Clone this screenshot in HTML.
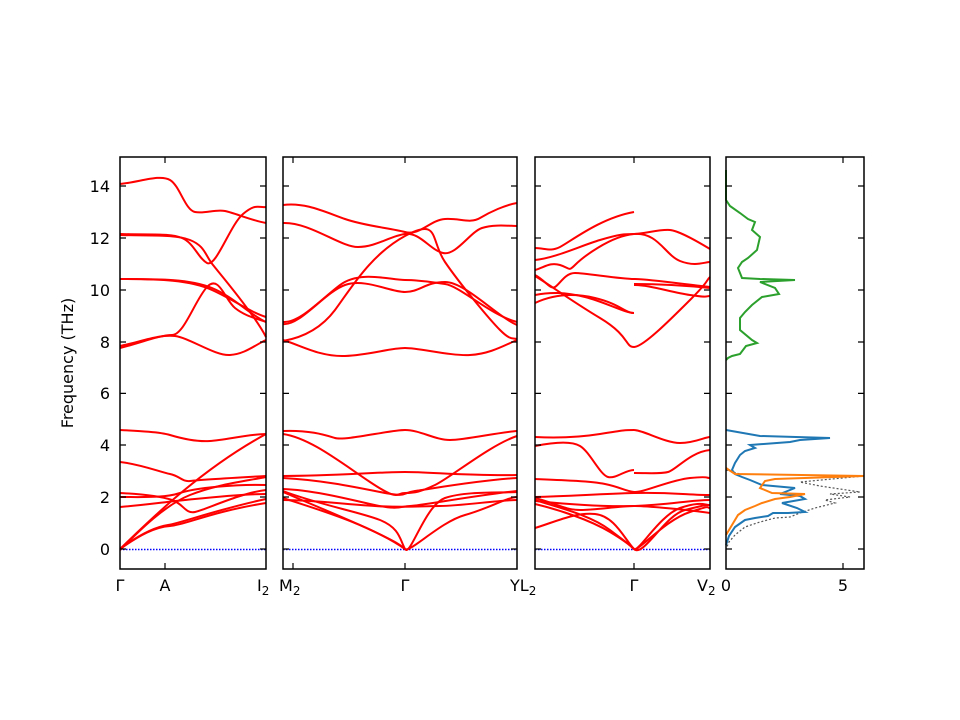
<!DOCTYPE html>
<html><head><meta charset="utf-8"><style>
body{margin:0;background:#fff}
svg{display:block}
text{font-family:"DejaVu Sans","Liberation Sans",sans-serif;font-size:16px;fill:#000}
.b{fill:none;stroke:#f00;stroke-width:2}
</style></head><body>
<svg width="960" height="720" xmlns="http://www.w3.org/2000/svg">
<rect width="960" height="720" fill="#fff"/>
<!-- zero lines -->
<g stroke="#0000ff" stroke-width="1.4" stroke-dasharray="1.5,1.5">
<line x1="120" y1="549.5" x2="266" y2="549.5"/>
<line x1="283" y1="549.5" x2="517" y2="549.5"/>
<line x1="535" y1="549.5" x2="710" y2="549.5"/>
</g>
<!-- Panel 1 bands -->
<g class="b">
<path d="M120,184 C140,182 160,174 170,180 S185,210 195,212 S215,209 225,211 S250,220 266,223"/>
<path d="M120,234 C150,235 170,233 182,238 S198,258 207,263 S230,225 243,214 S258,208 266,207"/>
<path d="M120,235 C150,236 175,234 190,240 S205,255 213,265 S255,315 266,337"/>
<path d="M120,279 C160,279 190,279 212,288 S250,315 266,322"/>
<path d="M120,279 C160,279 190,280 212,290 S250,312 266,317"/>
<path d="M120,348 C140,343 160,335 172,335 S195,300 207,287 S225,300 235,308 S255,318 266,322"/>
<path d="M120,346 C140,342 160,334 175,336 S215,356 230,355 S255,345 266,340"/>
<path d="M120,430 C140,431 160,432 170,435 S195,442 210,441 S250,434 266,434"/>
<path d="M120,462 C140,464 160,472 170,474 S182,482 190,481 S230,478 266,476"/>
<path d="M120,549 C150,520 200,470 266,434"/>
<path d="M120,549 C140,535 155,527 170,526 S210,512 266,503"/>
<path d="M120,549 C140,534 155,527 168,525 S215,510 266,499"/>
<path d="M120,493 C140,494 160,496 172,500 S185,514 195,512 S240,493 266,490"/>
<path d="M120,507 C145,505 165,502 185,500 S240,494 266,494"/>
<path d="M120,550 C140,530 165,505 190,495 S240,482 266,477"/>
<path d="M120,497 C145,497 165,498 180,493 S235,484 266,485"/>
</g>
<!-- Panel 2 bands -->
<g class="b">
<path d="M283,205 C305,202 325,212 345,219 S390,228 405,232 S430,220 445,219 S470,224 480,218 S505,205 517,203"/>
<path d="M283,223 C310,222 340,247 358,247 S390,236 405,234 S430,250 443,253 S470,232 482,228 S510,226 517,226"/>
<path d="M283,341 C300,338 320,330 335,310 S370,255 405,236 S430,240 445,262 S490,320 500,330 S512,338 517,339"/>
<path d="M283,322 C300,323 320,300 340,285 S390,280 405,280 S430,282 445,284 S490,315 517,322"/>
<path d="M283,324 C300,326 325,292 345,285 S390,292 405,292 S425,282 445,282 S495,315 517,325"/>
<path d="M283,340 C300,345 320,357 345,356 S390,348 405,348 S450,356 470,355 S505,345 517,340"/>
<path d="M283,431 C310,430 325,435 335,438 S390,430 405,430 S435,440 450,440 S500,432 517,431"/>
<path d="M283,434 C310,438 340,462 370,482 S395,493 405,493 S420,492 435,485 S490,445 517,436"/>
<path d="M283,476 C330,476 380,472 405,472 S470,476 517,475"/>
<path d="M283,478 C320,480 350,486 380,492 S400,493 415,491 S480,480 517,478"/>
<path d="M283,489 C310,490 340,497 370,504 S400,506 410,506 S470,496 517,491"/>
<path d="M283,491 C320,505 360,512 380,520 S400,540 405,549 S425,505 445,498 S500,493 517,492"/>
<path d="M283,492 C320,508 350,520 375,532 S400,545 405,549 S440,522 465,515 S505,498 517,497"/>
<path d="M283,500 C315,500 340,504 375,506 S420,506 440,506 S500,500 517,500"/>
<path d="M283,498 C320,510 370,525 405,549"/>
</g>
<!-- Panel 3 bands -->
<g class="b">
<path d="M535,248 C545,248 550,252 560,247 S600,218 634,212"/>
<path d="M535,260 C555,258 580,246 600,240 S625,234 634,234 S660,229 670,230 S700,243 710,249"/>
<path d="M535,270 C545,267 550,262 560,265 S568,272 575,265 S610,236 634,234 S665,255 680,261 S705,262 710,262"/>
<path d="M535,275 C545,280 550,290 555,287 S565,273 575,273 S620,279 634,279 S690,285 710,287"/>
<path d="M535,276 C550,285 570,300 600,318 S625,347 634,347 S670,320 690,300 S705,282 710,277"/>
<path d="M535,295 C550,292 565,292 585,297 S625,313 634,313"/>
<path d="M535,303 C550,296 570,292 595,298 S625,313 634,313"/>
<path d="M634,285 C650,285 670,292 690,295 S705,296 710,296"/>
<path d="M634,284 C660,284 690,286 710,288"/>
<path d="M535,437 C555,438 575,438 600,434 S625,430 634,430 S665,443 680,443 S705,437 710,437"/>
<path d="M535,446 C550,443 570,440 580,446 S600,475 608,477 S625,470 634,470"/>
<path d="M634,473 C650,473 660,474 668,472 S690,452 710,450"/>
<path d="M535,479 C560,480 590,481 605,484 S625,491 634,492 S670,480 690,478 S705,478 710,478"/>
<path d="M535,500 C560,508 590,515 610,530 S630,545 634,549 S660,515 680,508 S705,505 710,505"/>
<path d="M535,528 C555,522 575,512 595,514 S625,540 634,549 S665,515 685,510 S705,505 710,505"/>
<path d="M535,497 C570,496 600,494 634,493 S690,495 710,495"/>
<path d="M535,501 C565,504 600,507 634,506 S690,500 710,500"/>
<path d="M535,498 C555,503 565,510 580,510 S620,506 634,506 S690,510 710,513"/>
<path d="M535,504 C560,510 590,520 610,532 S630,546 634,549 S665,520 690,512 S705,508 710,508"/>
</g>
<!-- DOS -->
<polyline fill="none" stroke="#555" stroke-width="1.2" stroke-dasharray="2,2" points="726,470 740,474 864,476 800,482 820,486 860,492 830,494 850,497 825,500 835,503 815,508 800,513 790,517 775,518 760,522 745,527 735,535 729,542 726,549"/>
<polyline fill="none" stroke="#1f77b4" stroke-width="2" points="726,430 760,436 830,438 800,440 790,442 750,445 755,448 745,451 740,455 735,463 732,470 735,474 742,477 750,480 762,485 795,488 780,494 800,496 805,499 782,503 797,508 805,512 788,513 773,513 768,516 755,518 745,520 735,527 729,536 726,545"/>
<polyline fill="none" stroke="#ff7f0e" stroke-width="2" points="726,468 732,472 735,474 864,476 775,479 765,481 760,488 772,493 805,494 790,497 775,499 762,503 755,506 745,510 738,515 732,525 726,535"/>
<polyline fill="none" stroke="#2ca02c" stroke-width="2" points="726,170 726,200 730,206 740,213 748,219 755,222 752,230 760,237 757,250 748,258 742,262 738,268 742,278 760,279 795,280 760,282 775,288 779,294 762,297 752,305 745,312 740,318 740,330 752,340 757,343 746,346 740,354 732,356 728,358 726,360"/>
<!-- axes frames -->
<g fill="none" stroke="#000" stroke-width="1.5">
<rect x="120" y="157" width="146" height="412"/>
<rect x="283" y="157" width="234" height="412"/>
<rect x="535" y="157" width="175" height="412"/>
<rect x="726" y="157" width="138" height="412"/>
</g>
<!-- ticks -->
<g stroke="#000" stroke-width="1.2">
<path d="M120,549h6M120,497h6M120,445h6M120,393.4h6M120,342h6M120,290h6M120,238h6M120,186h6"/>
<path d="M266,549h-6M266,497h-6M266,445h-6M266,393.4h-6M266,342h-6M266,290h-6M266,238h-6M266,186h-6"/>
<path d="M283,549h6M283,497h6M283,445h6M283,393.4h6M283,342h6M283,290h6M283,238h6M283,186h6"/>
<path d="M517,549h-6M517,497h-6M517,445h-6M517,393.4h-6M517,342h-6M517,290h-6M517,238h-6M517,186h-6"/>
<path d="M535,549h6M535,497h6M535,445h6M535,393.4h6M535,342h6M535,290h6M535,238h6M535,186h6"/>
<path d="M710,549h-6M710,497h-6M710,445h-6M710,393.4h-6M710,342h-6M710,290h-6M710,238h-6M710,186h-6"/>
<path d="M726,549h6M726,497h6M726,445h6M726,393.4h6M726,342h6M726,290h6M726,238h6M726,186h6"/>
<path d="M864,549h-6M864,497h-6M864,445h-6M864,393.4h-6M864,342h-6M864,290h-6M864,238h-6M864,186h-6"/>
<path d="M165,569v-6M165,157v6M293,569v-6M293,157v6M405,569v-6M405,157v6M634,569v-6M634,157v6M843,569v-6M843,157v6"/>
</g>
<!-- y labels -->
<g text-anchor="end">
<text x="110" y="555">0</text><text x="110" y="503">2</text><text x="110" y="451">4</text>
<text x="110" y="399">6</text><text x="110" y="348">8</text><text x="110" y="296">10</text>
<text x="110" y="244">12</text><text x="110" y="192">14</text>
</g>
<text transform="translate(73,363) rotate(-90)" text-anchor="middle">Frequency (THz)</text>
<!-- x labels -->
<text x="120" y="591" text-anchor="middle">Γ</text>
<text x="165" y="591" text-anchor="middle">A</text>
<text x="257" y="591">I<tspan font-size="12" dy="4">2</tspan></text>
<text x="279" y="591">M<tspan font-size="12" dy="4">2</tspan></text>
<text x="405" y="591" text-anchor="middle">Γ</text>
<text x="510" y="591">YL<tspan font-size="12" dy="4">2</tspan></text>
<text x="634" y="591" text-anchor="middle">Γ</text>
<text x="697" y="591">V<tspan font-size="12" dy="4">2</tspan></text>
<text x="726" y="591" text-anchor="middle">0</text>
<text x="843" y="591" text-anchor="middle">5</text>
</svg>
</body></html>
